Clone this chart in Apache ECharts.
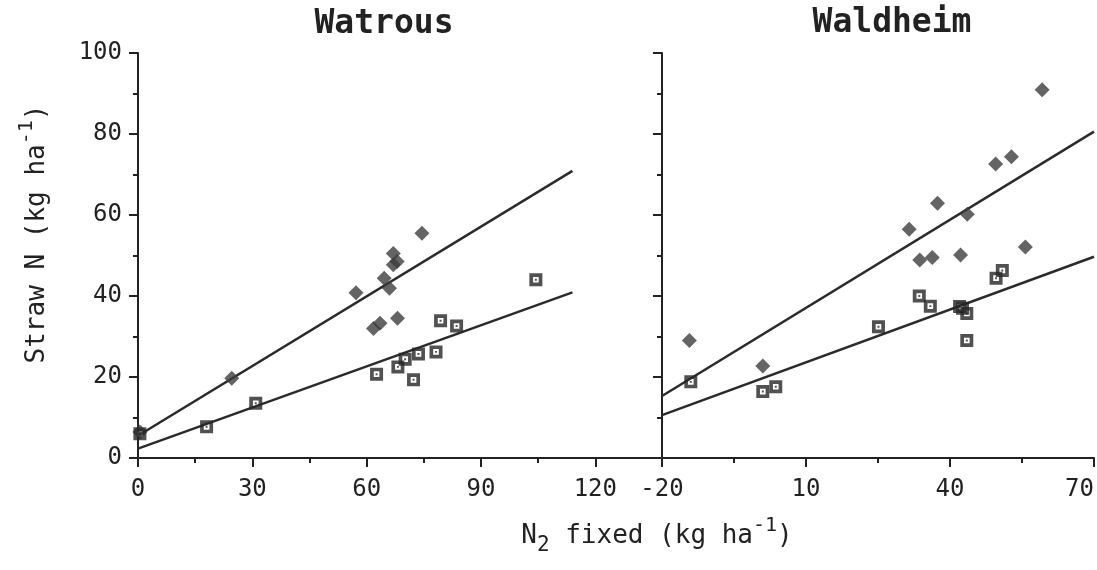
<!DOCTYPE html>
<html>
<head>
<meta charset="utf-8">
<title>Straw N vs N2 fixed</title>
<script src="https://cdn.jsdelivr.net/npm/echarts@6/dist/echarts.min.js"></script>
<style>
  html, body { margin: 0; padding: 0; background: #fff; }
  #chart { width: 1097px; height: 570px; }
</style>
</head>
<body>
<div id="chart"></div>
<script>
// values, [N2 fixed, straw N]
const watrousDiamonds = [
  [0.5, 6.4], [24.6, 19.7], [57.2, 40.8], [61.8, 32.0], [63.5, 33.3], [64.6, 44.4],
  [66.0, 41.9], [67.0, 50.5], [67.0, 47.7], [68.0, 48.5], [68.1, 34.5], [74.5, 55.5]
];
const watrousSquares = [
  [0.5, 6.0], [18.0, 7.7], [30.9, 13.5], [62.6, 20.7], [68.2, 22.5], [70.1, 24.4],
  [72.3, 19.3], [73.6, 25.7], [78.2, 26.2], [79.4, 33.9], [83.6, 32.6], [104.4, 44.0]
];
const waldheimDiamonds = [
  [-14.3, 29.0], [1.0, 22.7], [31.5, 56.5], [33.7, 48.9], [36.3, 49.5], [37.4, 62.9],
  [42.2, 50.1], [43.6, 60.2], [49.5, 72.6], [52.8, 74.4], [55.7, 52.1], [59.2, 90.9]
];
const waldheimSquares = [
  [-14.0, 18.8], [1.0, 16.4], [3.7, 17.6], [25.1, 32.4], [33.6, 40.0], [35.9, 37.5],
  [42.0, 37.4], [42.6, 37.0], [43.5, 35.7], [43.5, 29.0], [49.6, 44.4], [50.9, 46.3]
];

// fitted lines, end points
const watrousFitDiamond = [[0, 5.5], [114, 70.9]];
const watrousFitSquare = [[0, 2.3], [114, 40.9]];
const waldheimFitDiamond = [[-20, 15.3], [70, 80.6]];
const waldheimFitSquare = [[-20, 10.6], [70, 49.7]];

// ticks
const watrousMajorTicks = [0, 30, 60, 90, 120];
const watrousMinorTicks = [15, 45, 75, 105];
const waldheimMajorTicks = [-20, 10, 40, 70];
const yTicks = [0, 20, 40, 60, 80, 100];

const ink = '#222';
const font = 'DejaVu Sans Mono';

// open square with a dot in the middle
const squareSymbol = 'path://M0 0H12V12H0Z M3.4 3.4V8.6H8.6V3.4Z M5.1 5.1H6.9V6.9H5.1Z';

const chart = echarts.init(document.getElementById('chart'), null, { renderer: 'canvas' });

const yAxisBase = (showLabels) => ({
  type: 'value',
  min: 0,
  max: 100,
  interval: 20,
  axisLine: { show: true, onZero: false, lineStyle: { color: ink, width: 2 } },
  axisTick: { show: true, length: 9, lineStyle: { color: ink, width: 2 } },
  minorTick: { show: true, splitNumber: 2, length: 5, lineStyle: { color: ink, width: 2 } },
  splitLine: { show: false },
  axisLabel: {
    show: showLabels,
    customValues: yTicks,
    margin: 16,
    color: ink,
    fontFamily: font,
    fontSize: 24
  }
});

const xLabel = {
  color: ink,
  fontFamily: font,
  fontSize: 24,
  margin: 20
};

const lineSeries = (data, xi) => ({
  type: 'line',
  xAxisIndex: xi,
  yAxisIndex: xi < 2 ? 0 : 1,
  data: data,
  showSymbol: false,
  silent: true,
  lineStyle: { color: '#2b2b2b', width: 2.5 },
  z: 2
});

const diamondSeries = (data, xi) => ({
  type: 'scatter',
  xAxisIndex: xi,
  yAxisIndex: xi < 2 ? 0 : 1,
  data: data,
  symbol: 'diamond',
  symbolSize: 15,
  itemStyle: { color: '#3d3d3d' },
  z: 3
});

const squareSeries = (data, xi) => ({
  type: 'scatter',
  xAxisIndex: xi,
  yAxisIndex: xi < 2 ? 0 : 1,
  data: data,
  symbol: squareSymbol,
  symbolSize: 13,
  itemStyle: { color: '#262626' },
  z: 4
});

chart.setOption({
  animation: false,
  backgroundColor: '#fff',
  grid: [
    { left: 138, top: 53, width: 524, height: 405 },
    { left: 662, top: 53, width: 433, height: 405 }
  ],
  xAxis: [
    {
      gridIndex: 0,
      type: 'value',
      position: 'bottom',
      min: 0,
      max: 137.5,
      axisLine: { show: true, onZero: false, lineStyle: { color: ink, width: 2 } },
      axisTick: { show: true, customValues: watrousMajorTicks, length: 9, lineStyle: { color: ink, width: 2 } },
      axisLabel: Object.assign({ customValues: watrousMajorTicks }, xLabel),
      splitLine: { show: false }
    },
    {
      gridIndex: 0,
      type: 'value',
      position: 'bottom',
      min: 0,
      max: 137.5,
      axisLine: { show: false, onZero: false },
      axisTick: { show: true, customValues: watrousMinorTicks, length: 5, lineStyle: { color: ink, width: 2 } },
      axisLabel: { show: false },
      splitLine: { show: false }
    },
    {
      gridIndex: 1,
      type: 'value',
      position: 'bottom',
      min: -20,
      max: 70,
      interval: 30,
      axisLine: { show: true, onZero: false, lineStyle: { color: ink, width: 2 } },
      axisTick: { show: true, length: 9, lineStyle: { color: ink, width: 2 } },
      minorTick: { show: true, splitNumber: 2, length: 5, lineStyle: { color: ink, width: 2 } },
      axisLabel: Object.assign({ customValues: waldheimMajorTicks, alignMaxLabel: 'right' }, xLabel),
      splitLine: { show: false }
    }
  ],
  yAxis: [
    Object.assign({ gridIndex: 0 }, yAxisBase(true)),
    Object.assign({ gridIndex: 1 }, yAxisBase(false))
  ],
  series: [
    lineSeries(watrousFitDiamond, 0),
    lineSeries(watrousFitSquare, 0),
    lineSeries(waldheimFitDiamond, 2),
    lineSeries(waldheimFitSquare, 2),
    squareSeries(watrousSquares, 0),
    diamondSeries(watrousDiamonds, 0),
    squareSeries(waldheimSquares, 2),
    diamondSeries(waldheimDiamonds, 2)
  ],
  graphic: [
    {
      type: 'text', x: 384, y: 24,
      style: { text: 'Watrous', fontFamily: font, fontWeight: 'bold', fontSize: 33, fill: ink, align: 'center', verticalAlign: 'middle' }
    },
    {
      type: 'text', x: 892, y: 23,
      style: { text: 'Waldheim', fontFamily: font, fontWeight: 'bold', fontSize: 33, fill: ink, align: 'center', verticalAlign: 'middle' }
    },
    {
      type: 'text', x: 37, y: 234, rotation: Math.PI / 2,
      style: {
        text: '{b|Straw N (kg ha}{sup|-1}{b|)}',
        align: 'center', verticalAlign: 'middle',
        rich: {
          b: { fontFamily: font, fontSize: 26, fill: ink, lineHeight: 40, verticalAlign: 'middle' },
          sup: { fontFamily: font, fontSize: 20, fill: ink, lineHeight: 40, verticalAlign: 'top' }
        }
      }
    },
    {
      type: 'text', x: 657, y: 536,
      style: {
        text: '{b|N}{sub|2}{b| fixed (kg ha}{sup|-1}{b|)}',
        align: 'center', verticalAlign: 'middle',
        rich: {
          b: { fontFamily: font, fontSize: 26, fill: ink, lineHeight: 40, verticalAlign: 'middle' },
          sub: { fontFamily: font, fontSize: 21, fill: ink, lineHeight: 40, verticalAlign: 'bottom' },
          sup: { fontFamily: font, fontSize: 20, fill: ink, lineHeight: 40, verticalAlign: 'top' }
        }
      }
    }
  ]
});

window.addEventListener('resize', () => chart.resize());
</script>
</body>
</html>
